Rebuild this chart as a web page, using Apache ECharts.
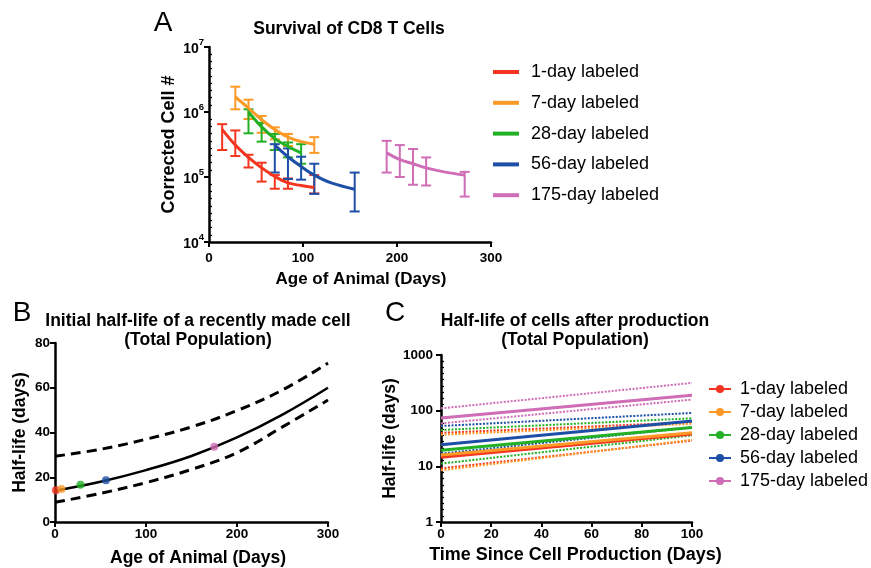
<!DOCTYPE html>
<html>
<head>
<meta charset="utf-8">
<script src="https://cdn.jsdelivr.net/npm/echarts@6/dist/echarts.min.js"></script>
<style>
  html, body { margin: 0; background: #fff; }
  #chart { width: 871px; height: 568px; }
</style>
</head>
<body>
<div id="chart"></div>
<script>
const cohorts = ['1-day labeled', '7-day labeled', '28-day labeled', '56-day labeled', '175-day labeled']
const colors = ['#f4351f', '#fb9a26', '#22b024', '#1c4fa5', '#cf6db6']
const FONT = '"Liberation Sans", Arial, sans-serif'

// panel A: fitted survival curves
const fitDaysA = [
  [14, 28, 42, 56, 70, 84, 98, 112],
  [28, 42, 56, 70, 84, 98, 112],
  [42, 56, 70, 84, 98],
  [70, 84, 98, 112, 130, 155],
  [189, 203, 217, 231, 250, 272],
]
const fitCellsA = [
  [5.4e5, 3.1e5, 2.0e5, 1.38e5, 1.02e5, 8.1e4, 7.4e4, 6.9e4],
  [1.7e6, 1.15e6, 7.6e5, 5.4e5, 4.1e5, 3.5e5, 3.2e5],
  [1.0e6, 5.9e5, 3.9e5, 2.95e5, 2.35e5],
  [3.1e5, 2.05e5, 1.45e5, 1.07e5, 8.1e4, 6.5e4],
  [2.35e5, 1.85e5, 1.6e5, 1.38e5, 1.2e5, 1.07e5],
]
// panel A: error bars
const barDaysA = [
  [14, 28, 42, 56, 70, 84, 112],
  [28, 42, 56, 70, 84, 112],
  [42, 56, 70, 84, 98],
  [70, 84, 98, 112, 155],
  [189, 203, 217, 231, 272],
]
const barHighA = [
  [6.5e5, 5.2e5, 2.2e5, 1.66e5, 1.07e5, 9.5e4, 1.07e5],
  [2.45e6, 1.55e6, 8.7e5, 5.8e5, 4.6e5, 4.1e5],
  [1.1e6, 6.8e5, 4.6e5, 3.4e5, 3.2e5],
  [3.2e5, 2.75e5, 2.05e5, 1.6e5, 1.17e5],
  [3.6e5, 3.1e5, 2.7e5, 2.0e5, 1.2e5],
]
const barLowA = [
  [2.6e5, 2.1e5, 1.4e5, 8.5e4, 6.6e4, 6.6e4, 5.6e4],
  [1.1e6, 7.8e5, 4.8e5, 3.8e5, 3.0e5, 2.35e5],
  [4.7e5, 3.5e5, 2.6e5, 2.0e5, 1.6e5],
  [1.17e5, 9.3e4, 9.1e4, 5.5e4, 2.95e4],
  [1.17e5, 1.0e5, 7.6e4, 7.4e4, 5.0e4],
]

// panel B
const ageB = [0, 50, 100, 150, 200, 250, 300]
const halfLifeB = [14.0, 18.0, 23.2, 29.5, 37.8, 48, 60]
const upperB = [29.4, 32.5, 37, 42.5, 49.8, 59, 71]
const lowerB = [8.8, 12.8, 17.6, 23.5, 31, 42.5, 54.5]
const pointAgeB = [1, 7, 28, 56, 175]
const pointHalfLifeB = [14.2, 14.8, 16.6, 18.7, 33.6]

// panel C: values at day 0 and day 100
const timeC = [0, 100]
const fitC = [[14.5, 38], [16, 40], [19.5, 50], [24.5, 65], [74, 190]]
const upperC = [[40, 62], [37, 58], [45, 73], [53, 91], [110, 315]]
const lowerC = [[9.2, 29], [8.5, 30], [11.2, 36], [17, 50], [59, 158]]

const axisLine = { show: true, onZero: false, lineStyle: { color: '#000', width: 2.5 } }
const axisTick = { show: true, length: 5, lineStyle: { color: '#000', width: 2 } }
const label = { color: '#000', fontWeight: 'bold', fontSize: 13.5, fontFamily: FONT }
const nameStyle = { color: '#000', fontWeight: 'bold', fontSize: 17.5, fontFamily: FONT }

// decade axis drawn on top of a log axis, only for its minor ticks
function minorAxis(grid, min, max) {
  return {
    gridIndex: grid, type: 'value', min, max, interval: 1,
    axisLine: { show: false }, axisTick: { show: false }, axisLabel: { show: false },
    splitLine: { show: false },
    minorTick: { show: true, splitNumber: 9, length: 3, lineStyle: { color: '#000', width: 1.3 } },
  }
}

function errorBar(params, api) {
  const x = api.value(0)
  const top = api.coord([x, api.value(2)])
  const bottom = api.coord([x, api.value(1)])
  const style = { stroke: api.visual('color'), lineWidth: 2 }
  return {
    type: 'group',
    children: [
      { type: 'line', shape: { x1: top[0], y1: top[1], x2: bottom[0], y2: bottom[1] }, style },
      { type: 'line', shape: { x1: top[0] - 5, y1: top[1], x2: top[0] + 5, y2: top[1] }, style },
      { type: 'line', shape: { x1: bottom[0] - 5, y1: bottom[1], x2: bottom[0] + 5, y2: bottom[1] }, style },
    ],
  }
}

let series = []

// C solid lines first so legend C takes its icon from them
cohorts.forEach((name, i) => {
  series.push({
    name, type: 'line', xAxisIndex: 2, yAxisIndex: 2,
    data: timeC.map((t, j) => [t, fitC[i][j]]),
    symbol: 'circle', showSymbol: false, z: 5,
    itemStyle: { color: colors[i] }, lineStyle: { color: colors[i], width: 3 },
  })
})
cohorts.forEach((name, i) => {
  ;[upperC, lowerC].forEach(band => {
    series.push({
      type: 'line', xAxisIndex: 2, yAxisIndex: 2,
      data: timeC.map((t, j) => [t, band[i][j]]),
      symbol: 'none', z: 3,
      lineStyle: { color: colors[i], width: 2, type: [2, 1.5] },
    })
  })
})

// A
cohorts.forEach((name, i) => {
  series.push({
    name, type: 'custom', xAxisIndex: 0, yAxisIndex: 0,
    renderItem: errorBar,
    encode: { x: 0, y: [1, 2] },
    data: barDaysA[i].map((d, j) => [d, barLowA[i][j], barHighA[i][j]]),
    itemStyle: { color: colors[i] }, z: 3,
  })
  series.push({
    name, type: 'line', xAxisIndex: 0, yAxisIndex: 0,
    data: fitDaysA[i].map((d, j) => [d, fitCellsA[i][j]]),
    symbol: 'none', smooth: 0.4, z: 4,
    itemStyle: { color: colors[i] }, lineStyle: { color: colors[i], width: 3 },
  })
})

// B
series.push({
  type: 'line', xAxisIndex: 1, yAxisIndex: 1, symbol: 'none', smooth: 0.4,
  data: ageB.map((a, j) => [a, upperB[j]]),
  lineStyle: { color: '#000', width: 3, type: [10, 6] },
})
series.push({
  type: 'line', xAxisIndex: 1, yAxisIndex: 1, symbol: 'none', smooth: 0.4,
  data: ageB.map((a, j) => [a, lowerB[j]]),
  lineStyle: { color: '#000', width: 3, type: [10, 6] },
})
series.push({
  type: 'line', xAxisIndex: 1, yAxisIndex: 1, symbol: 'none', smooth: 0.4,
  data: ageB.map((a, j) => [a, halfLifeB[j]]),
  lineStyle: { color: '#000', width: 2.5 },
})
series.push({
  type: 'scatter', xAxisIndex: 1, yAxisIndex: 1, symbolSize: 8, z: 6,
  data: pointAgeB.map((a, j) => ({ value: [a, pointHalfLifeB[j]], itemStyle: { color: colors[j] } })),
})

function text(str, x, y, font, extra) {
  return {
    type: 'text', silent: true,
    style: Object.assign({ text: str, x, y, fill: '#000', font, align: 'center', verticalAlign: 'middle' }, extra || {}),
  }
}

const option = {
  animation: false,
  backgroundColor: '#fff',
  grid: [
    { left: 209, top: 47, width: 282, height: 195 },
    { left: 55, top: 343, width: 273, height: 179 },
    { left: 441, top: 355, width: 251, height: 167 },
  ],
  xAxis: [
    {
      gridIndex: 0, type: 'value', min: 0, max: 300, interval: 100,
      axisLine, axisTick, splitLine: { show: false },
      axisLabel: Object.assign({ margin: 9 }, label),
      name: 'Age of Animal (Days)', nameLocation: 'middle', nameGap: 29,
      nameTextStyle: Object.assign({}, nameStyle, { fontSize: 17, padding: [0, 0, 0, 22] }),
    },
    {
      gridIndex: 1, type: 'value', min: 0, max: 300, interval: 100,
      axisLine, axisTick, splitLine: { show: false },
      axisLabel: Object.assign({ margin: 5 }, label),
      name: 'Age of Animal (Days)', nameLocation: 'middle', nameGap: 27,
      nameTextStyle: Object.assign({}, nameStyle, { padding: [0, 0, 0, 13] }),
    },
    {
      gridIndex: 2, type: 'value', min: 0, max: 100, interval: 20,
      axisLine, axisTick, splitLine: { show: false },
      axisLabel: Object.assign({ margin: 5 }, label),
      name: 'Time Since Cell Production (Days)', nameLocation: 'middle', nameGap: 24,
      nameTextStyle: Object.assign({}, nameStyle, { fontSize: 18, padding: [0, 0, 0, 18] }),
    },
  ],
  yAxis: [
    {
      gridIndex: 0, type: 'log', logBase: 10, min: 1e4, max: 1e7,
      axisLine, axisTick, splitLine: { show: false },
      axisLabel: {
        margin: 5,
        formatter: v => '{b|10}{s|' + Math.round(Math.log10(v)) + '}',
        rich: {
          b: { color: '#000', fontWeight: 'bold', fontSize: 14, fontFamily: FONT, padding: [5, 0, 0, 0], verticalAlign: 'bottom' },
          s: { color: '#000', fontWeight: 'bold', fontSize: 9.5, fontFamily: FONT, verticalAlign: 'top' },
        },
      },
      name: 'Corrected Cell #', nameLocation: 'middle', nameGap: 31,
      nameTextStyle: Object.assign({}, nameStyle, { fontSize: 18 }),
    },
    {
      gridIndex: 1, type: 'value', min: 0, max: 80, interval: 20,
      axisLine, axisTick, splitLine: { show: false },
      axisLabel: Object.assign({ margin: 5 }, label),
      name: 'Half-life (days)', nameLocation: 'middle', nameGap: 26,
      nameTextStyle: nameStyle,
    },
    {
      gridIndex: 2, type: 'log', logBase: 10, min: 1, max: 1000,
      axisLine, axisTick, splitLine: { show: false },
      axisLabel: Object.assign({ margin: 8, formatter: v => String(Math.round(v)) }, label),
      name: 'Half-life (days)', nameLocation: 'middle', nameGap: 32,
      nameTextStyle: nameStyle,
    },
    minorAxis(0, 4, 7),
    minorAxis(2, 0, 3),
  ],
  legend: [
    {
      data: cohorts, orient: 'vertical', left: 493, top: 62, padding: 0,
      icon: 'rect', itemWidth: 26, itemHeight: 4, itemGap: 10.8, selectedMode: false,
      textStyle: { color: '#000', fontSize: 18, lineHeight: 20, fontFamily: FONT, padding: [0, 0, 0, 7] },
    },
    {
      data: cohorts, orient: 'vertical', left: 708, top: 379, padding: 0,
      itemWidth: 22, itemHeight: 10, itemGap: 3, selectedMode: false,
      textStyle: { color: '#000', fontSize: 18, lineHeight: 20, fontFamily: FONT, padding: [0, 0, 0, 4] },
    },
  ],
  graphic: [
    text('A', 163, 23, '28px ' + FONT),
    text('B', 22, 313, '28px ' + FONT),
    text('C', 395, 313, '28px ' + FONT),
    text('Survival of CD8 T Cells', 349, 29, 'bold 17.5px ' + FONT),
    text('Initial half-life of a recently made cell\n(Total Population)', 198, 331, 'bold 17.5px ' + FONT, { lineHeight: 19 }),
    text('Half-life of cells after production\n(Total Population)', 575, 331, 'bold 17.5px ' + FONT, { lineHeight: 19 }),
  ],
  series,
}

const chart = echarts.init(document.getElementById('chart'))
chart.setOption(option)
</script>
</body>
</html>
